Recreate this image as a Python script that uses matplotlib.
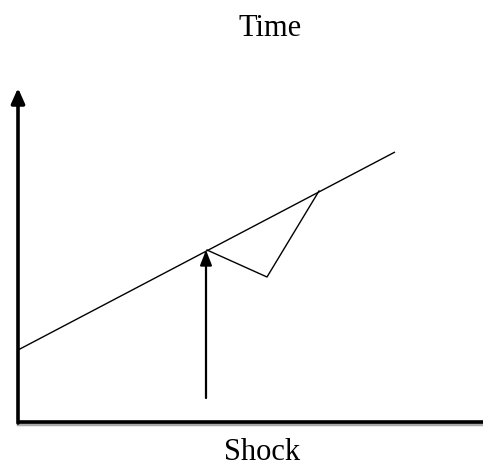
import matplotlib
matplotlib.use("Agg")
import matplotlib.pyplot as plt

# Data (units: horizontal time, vertical level; origin at the axes corner)
trend_x = [0, 377]
trend_y = [72, 270]
path_x = [189, 249, 301]
path_y = [172, 145, 231]
shock_x = 188
shock_y0, shock_y1 = 24, 172
title_text = "Time"
xlabel_text = "Shock"

W, H = 483, 468
fig = plt.figure(figsize=(W / 100, H / 100), dpi=100)
ox, oy = 18, 422  # origin in pixels
ax = fig.add_axes([ox / W, (H - oy) / H, (W - ox) / W, (oy - 80) / H])
ax.set_xlim(0, W - ox)
ax.set_ylim(0, oy - 80)
ax.axis("off")

# trend line and shock path
ax.plot(trend_x, trend_y, color="black", lw=1.0, solid_capstyle="butt")
ax.plot(path_x, path_y, color="black", lw=1.0)

# shock arrow
ax.annotate("", xy=(shock_x, shock_y1), xytext=(shock_x, shock_y0),
            arrowprops=dict(arrowstyle="-|>,head_length=0.9,head_width=0.35",
                            color="black", lw=1.6, shrinkA=0, shrinkB=0))

# axes: vertical with arrow, horizontal with shadow
ax.plot([0, W - ox], [-2, -2], color="#aaaaaa", lw=2.5, clip_on=False)
ax.plot([0, W - ox], [0, 0], color="black", lw=2.6, clip_on=False,
        solid_capstyle="butt")
ax.annotate("", xy=(0, oy - 88), xytext=(0, -1),
            arrowprops=dict(arrowstyle="-|>,head_length=0.9,head_width=0.4",
                            color="black", lw=2.6, shrinkA=0, shrinkB=0),
            annotation_clip=False)

fig.text(270 / W, 1 - 29 / H, title_text, ha="center", va="center",
         family="Liberation Serif", fontsize=22)
fig.text(262 / W, 1 - 452 / H, xlabel_text, ha="center", va="center",
         family="Liberation Serif", fontsize=22)

fig.savefig("out.png", dpi=100)
